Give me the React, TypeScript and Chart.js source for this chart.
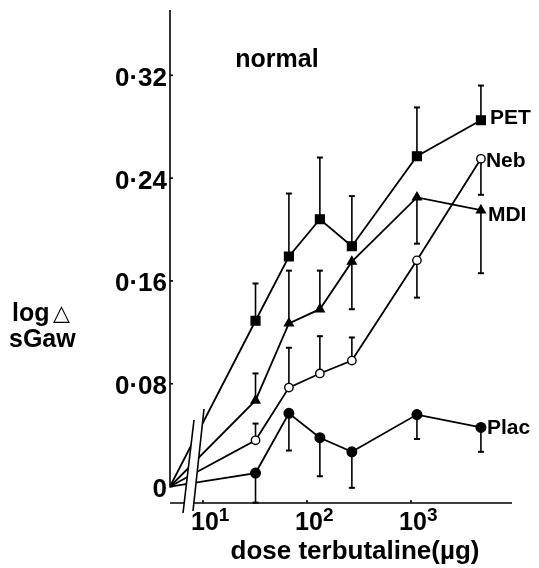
import { useEffect, useRef } from "react";
import { Chart, registerables } from "chart.js";
Chart.register(...registerables);

// ---- data ----
const DOSES = [32, 67, 133, 270, 1140, 4700];
const PET = [0.129, 0.179, 0.208, 0.187, 0.257, 0.285];
const PET_ERR = [0.029, 0.049, 0.048, 0.039, 0.038, 0.027];
const NEB = [0.036, 0.077, 0.088, 0.098, 0.176, 0.255];
const NEB_ERR = [0.013, 0.031, 0.029, 0.018, -0.029, -0.028];
const MDI = [0.067, 0.127, 0.138, 0.175, 0.225, 0.215];
const MDI_ERR = [0.021, 0.041, 0.03, -0.037, -0.036, -0.049];
const PLAC = [0.0105, 0.057, 0.038, 0.027, 0.056, 0.046];
const PLAC_ERR = [-0.023, -0.029, -0.03, -0.028, -0.019, -0.019];
const SERIES_LABELS = ["PET", "Neb", "MDI", "Plac"];
const Y_TICKS = [0, 0.08, 0.16, 0.24, 0.32];
const Y_TICK_LABELS = ["0", "0·08", "0·16", "0·24", "0·32"];
const X_TICKS = [10, 100, 1000];
const X_TICK_EXPONENTS = ["1", "2", "3"];
const X_MIN = 4.82;
const X_MAX = 9350;
const Y_MIN = -0.0128;
const Y_MAX = 0.3708;

const FONT = "'Liberation Sans', Arial, Helvetica, sans-serif";
const LABEL_DX = [9, 5, 7, 6];
const LABEL_DY = [-3.5, 1, 3.5, -1];

const SERIES = [
  { vals: PET, err: PET_ERR, style: "rect", r: 6.2, fill: "#000" },
  { vals: NEB, err: NEB_ERR, style: "circle", r: 4.2, fill: "#fff" },
  { vals: MDI, err: MDI_ERR, style: "triangle", r: 5, fill: "#000" },
  { vals: PLAC, err: PLAC_ERR, style: "circle", r: 4.8, fill: "#000" },
];

const decor = {
  id: "decor",
  beforeDatasetsDraw(chart: any) {
    const { ctx } = chart;
    const xs = chart.scales.x;
    const ys = chart.scales.y;
    ctx.save();
    ctx.strokeStyle = "#000";
    ctx.lineWidth = 1.6;
    const left = xs.getPixelForValue(X_MIN);
    const base = ys.getPixelForValue(Y_MIN);
    // y axis
    ctx.beginPath();
    ctx.moveTo(left, ys.getPixelForValue(Y_MAX));
    ctx.lineTo(left, ys.getPixelForValue(0) + 1);
    ctx.stroke();
    // x axis
    ctx.beginPath();
    ctx.moveTo(left, base);
    ctx.lineTo(xs.getPixelForValue(X_MAX), base);
    ctx.stroke();
    // y tick marks
    Y_TICKS.forEach((t) => {
      const py = ys.getPixelForValue(t);
      ctx.beginPath();
      ctx.moveTo(left, py);
      ctx.lineTo(left + 3, py);
      ctx.stroke();
    });
    // x tick marks
    X_TICKS.forEach((t) => {
      const px = xs.getPixelForValue(t);
      ctx.beginPath();
      ctx.moveTo(px, base);
      ctx.lineTo(px, base - 3);
      ctx.stroke();
    });
    // error bars
    ctx.lineWidth = 1.6;
    SERIES.forEach((s) => {
      s.vals.forEach((v, i) => {
        const px = xs.getPixelForValue(DOSES[i]);
        const p0 = ys.getPixelForValue(v);
        const p1 = ys.getPixelForValue(v + s.err[i]);
        ctx.beginPath();
        ctx.moveTo(px, p0);
        ctx.lineTo(px, p1);
        ctx.stroke();
        ctx.lineWidth = 2;
        ctx.beginPath();
        ctx.moveTo(px - 3, p1);
        ctx.lineTo(px + 3, p1);
        ctx.stroke();
        ctx.lineWidth = 1.6;
      });
    });
    ctx.restore();
  },
  afterDatasetsDraw(chart: any) {
    const { ctx } = chart;
    const xs = chart.scales.x;
    const ys = chart.scales.y;
    const left = xs.getPixelForValue(X_MIN);
    const base = ys.getPixelForValue(Y_MIN);
    ctx.save();
    // axis break
    const s1t = [left + 24, base - 83];
    const s1b = [left + 13, base + 10];
    const s2t = [left + 34, base - 94];
    const s2b = [left + 23, base + 8];
    ctx.fillStyle = "#fff";
    ctx.beginPath();
    ctx.moveTo(s1t[0], s1t[1]);
    ctx.lineTo(s2t[0], s2t[1]);
    ctx.lineTo(s2b[0], s2b[1]);
    ctx.lineTo(s1b[0], s1b[1]);
    ctx.closePath();
    ctx.fill();
    ctx.strokeStyle = "#000";
    ctx.lineWidth = 1.6;
    ctx.beginPath();
    ctx.moveTo(s1t[0], s1t[1]);
    ctx.lineTo(s1b[0], s1b[1]);
    ctx.moveTo(s2t[0], s2t[1]);
    ctx.lineTo(s2b[0], s2b[1]);
    ctx.stroke();

    ctx.fillStyle = "#000";
    // y tick labels
    ctx.font = `bold 26px ${FONT}`;
    ctx.textAlign = "right";
    ctx.textBaseline = "alphabetic";
    Y_TICKS.forEach((t, i) => {
      const py = ys.getPixelForValue(t);
      ctx.fillText(Y_TICK_LABELS[i], left - 3, py + 10.5);
    });
    // x tick labels 10^n
    ctx.textAlign = "left";
    X_TICKS.forEach((t, i) => {
      const px = xs.getPixelForValue(t);
      ctx.font = `bold 25px ${FONT}`;
      const w = ctx.measureText("10").width;
      const x0 = px - w / 2 + 2;
      ctx.fillText("10", x0, base + 27);
      ctx.font = `bold 19px ${FONT}`;
      ctx.fillText(X_TICK_EXPONENTS[i], x0 + w, base + 18);
    });
    // x title
    ctx.font = `bold 26px ${FONT}`;
    ctx.textAlign = "center";
    ctx.fillText("dose terbutaline(µg)", 355, 559);
    // panel title
    ctx.font = `bold 25px ${FONT}`;
    ctx.fillText("normal", 277, 67);
    // y title
    ctx.textAlign = "left";
    ctx.fillText("log", 12, 321);
    ctx.fillText("sGaw", 9, 347);
    ctx.font = `22px 'DejaVu Sans', sans-serif`;
    ctx.fillText("△", 53, 320);
    // series labels
    ctx.font = `bold 21px ${FONT}`;
    SERIES.forEach((s, k) => {
      const n = s.vals.length - 1;
      const px = xs.getPixelForValue(DOSES[n]);
      const py = ys.getPixelForValue(s.vals[n]);
      ctx.fillText(SERIES_LABELS[k], px + LABEL_DX[k], py + 7.5 + LABEL_DY[k]);
    });
    ctx.restore();
  },
};

export default function App() {
  const ref = useRef<HTMLCanvasElement | null>(null);
  useEffect(() => {
    if (!ref.current) return;
    const datasets = SERIES.map((s, k) => ({
      label: SERIES_LABELS[k],
      data: [{ x: X_MIN, y: 0 }, ...DOSES.map((d, i) => ({ x: d, y: s.vals[i] }))],
      borderColor: "#000",
      borderWidth: 1.8,
      tension: 0,
      pointStyle: s.style,
      pointRadius: [0, ...DOSES.map(() => s.r)],
      pointBackgroundColor: s.fill,
      pointBorderColor: "#000",
      pointBorderWidth: 1.4,
      fill: false,
    }));
    const chart = new Chart(ref.current, {
      type: "line",
      data: { datasets } as any,
      options: {
        animation: false,
        responsive: true,
        maintainAspectRatio: false,
        layout: { padding: { left: 170, right: 27, top: 10, bottom: 65 } },
        plugins: { legend: { display: false }, tooltip: { enabled: false } },
        scales: {
          x: { type: "logarithmic", min: X_MIN, max: X_MAX, display: false },
          y: { type: "linear", min: Y_MIN, max: Y_MAX, display: false },
        },
      } as any,
      plugins: [decor],
    });
    return () => chart.destroy();
  }, []);
  return (
    <div style={{ position: "absolute", left: 0, top: 0, width: 539, height: 568, background: "#fff" }}>
      <canvas ref={ref} />
    </div>
  );
}
